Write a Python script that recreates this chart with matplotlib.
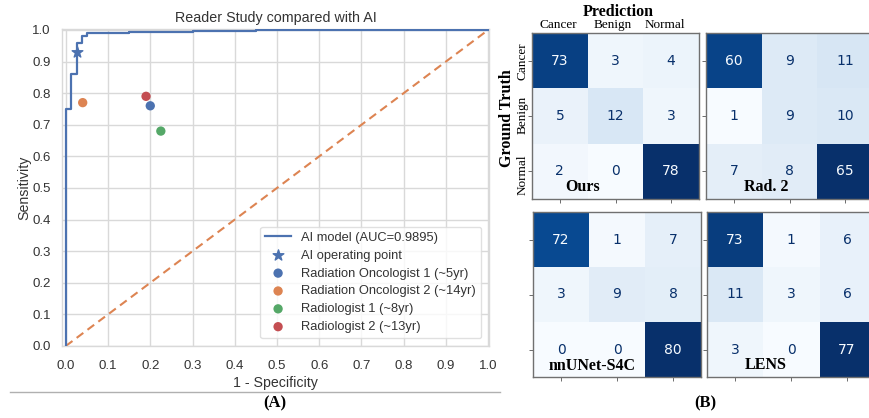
import numpy as np
import matplotlib
matplotlib.use("Agg")
import matplotlib.pyplot as plt
from matplotlib.lines import Line2D

# ---------------- data ----------------
roc_fpr = [0.0, 0.0, 0.013, 0.013, 0.026, 0.026, 0.039, 0.039, 0.051, 0.051, 0.15, 0.15, 0.30, 0.30, 0.45, 0.45, 1.0]
roc_tpr = [0.0, 0.75, 0.75, 0.86, 0.86, 0.96, 0.96, 0.98, 0.98, 0.99, 0.99, 0.993, 0.993, 0.997, 0.997, 1.0, 1.0]
auc_label = "AI model (AUC=0.9895)"
ai_point = (0.027, 0.93)
reader_names = ["Radiation Oncologist 1 (~5yr)", "Radiation Oncologist 2 (~14yr)",
                "Radiologist 1 (~8yr)", "Radiologist 2 (~13yr)"]
reader_fpr = [0.20, 0.04, 0.225, 0.19]
reader_tpr = [0.76, 0.77, 0.68, 0.79]
ticks01 = [round(0.1 * i, 1) for i in range(11)]

classes = ["Cancer", "Benign", "Normal"]
cm_names = ["Ours", "Rad. 2", "nnUNet-S4C", "LENS"]
cm_ours = [[73, 3, 4], [5, 12, 3], [2, 0, 78]]
cm_rad2 = [[60, 9, 11], [1, 9, 10], [7, 8, 65]]
cm_nnunet = [[72, 1, 7], [3, 9, 8], [0, 0, 80]]
cm_lens = [[73, 1, 6], [11, 3, 6], [3, 0, 77]]

# ---------------- style ----------------
W, H = 869, 418
fig = plt.figure(figsize=(W / 100, H / 100), dpi=100)
sans = ["Liberation Sans", "DejaVu Sans"]
serif = ["Liberation Serif", "DejaVu Serif"]

c_blue, c_orange, c_green, c_red = "#4c72b0", "#dd8452", "#55a868", "#c44e52"
grid_c = "#d9d9d9"
txt_c = "#333333"

# ---------------- ROC panel ----------------
ax = fig.add_axes([62 / W, 1 - 346 / H, 427 / W, 317 / H])
ax.set_facecolor("white")
ax.plot(roc_fpr, roc_tpr, color=c_blue, lw=1.6, label=auc_label, zorder=3)
ax.plot([0, 1], [0, 1], color=c_orange, lw=1.5, ls=(0, (4, 2.5)), zorder=2)
ax.scatter([ai_point[0]], [ai_point[1]], marker="*", s=65, color=c_blue,
           label="AI operating point", zorder=4)
for c, n, x, y in zip([c_blue, c_orange, c_green, c_red], reader_names, reader_fpr, reader_tpr):
    ax.scatter([x], [y], s=45, color=c, label=n, zorder=4, edgecolors="none")
ax.set_xlim(-0.009, 1.002)
ax.set_ylim(0.0, 1.003)
ax.set_xticks(ticks01)
ax.set_yticks(ticks01)
ax.set_xticklabels([f"{t:.1f}" for t in ticks01], family=sans, fontsize=9.5, color=txt_c)
ax.set_yticklabels([f"{t:.1f}" for t in ticks01], family=sans, fontsize=9.5, color=txt_c)
ax.tick_params(axis="x", length=0, pad=10)
ax.tick_params(axis="y", length=0, pad=8)
ax.grid(True, color=grid_c, lw=1.0, zorder=0)
ax.set_axisbelow(True)
for s in ax.spines.values():
    s.set_color(grid_c)
    s.set_linewidth(1.0)
ax.set_title("Reader Study compared with AI", family=sans, fontsize=10.3, color=txt_c, pad=5)
ax.set_xlabel("1 - Specificity", family=sans, fontsize=10.2, color=txt_c, labelpad=3)
ax.set_ylabel("Sensitivity", family=sans, fontsize=10.2, color=txt_c, labelpad=1)
leg = ax.legend(loc="lower right", prop={"family": sans, "size": 9.3}, frameon=True,
                borderaxespad=0.6, labelspacing=0.45, handlelength=2.0, fancybox=True)
leg.get_frame().set_edgecolor(grid_c)
for t in leg.get_texts():
    t.set_color(txt_c)

# separator and panel label
fig.add_artist(Line2D([10 / W, 500 / W], [1 - 392 / H, 1 - 392 / H], color="#b0b0b0", lw=1.0))
fig.text(275 / W, 1 - 403 / H, "(A)", family=serif, weight="bold", fontsize=12, ha="center", va="center")
fig.text(705 / W, 1 - 403 / H, "(B)", family=serif, weight="bold", fontsize=12, ha="center", va="center")

# ---------------- confusion matrices ----------------
cmap = plt.get_cmap("Blues")
boxes = [(532, 33, 167, 166), (706, 33, 167, 166), (533, 212, 168, 165), (707, 212, 168, 165)]
mats = [cm_ours, cm_rad2, cm_nnunet, cm_lens]
for (x0, y0, w, h), m in zip(boxes, mats):
    a = fig.add_axes([x0 / W, 1 - (y0 + h) / H, w / W, h / H])
    arr = np.array(m)
    a.imshow(arr, cmap=cmap, aspect="auto", interpolation="nearest")
    thr = (arr.max() + arr.min()) / 2.0
    for i in range(3):
        for j in range(3):
            col = cmap(0.0) if arr[i, j] > thr else cmap(1.0)
            a.text(j, i, str(arr[i, j]), ha="center", va="center", color=col,
                   fontsize=10, family=["DejaVu Sans"])
    a.set_xticks(range(3))
    a.set_yticks(range(3))
    a.set_xticklabels([])
    a.set_yticklabels([])
    a.tick_params(length=3, width=0.6, color="#555555")
    for s in a.spines.values():
        s.set_color("#707070")
        s.set_linewidth(1.0)

# titles inside matrices
for name, (x, y) in zip(cm_names, [(583, 187), (766, 187), (592, 366), (766, 365)]):
    fig.text(x / W, 1 - y / H, name, family=serif, weight="bold", fontsize=11.5,
             ha="center", va="center")

fig.text(618 / W, 1 - 12 / H, "Prediction", family=serif, weight="bold", fontsize=11.5,
         ha="center", va="center")
for name, x in zip(classes, [558, 613, 665]):
    fig.text(x / W, 1 - 25 / H, name, family=serif, fontsize=9.5, ha="center", va="center")
fig.text(507 / W, 1 - 118 / H, "Ground Truth", family=serif, weight="bold", fontsize=11.5,
         ha="center", va="center", rotation=90)
for name, y in zip(classes, [61, 115, 175]):
    fig.text(523 / W, 1 - y / H, name, family=serif, fontsize=9.5, ha="center", va="center",
             rotation=90)

fig.savefig("out.png", dpi=100, facecolor="white")
